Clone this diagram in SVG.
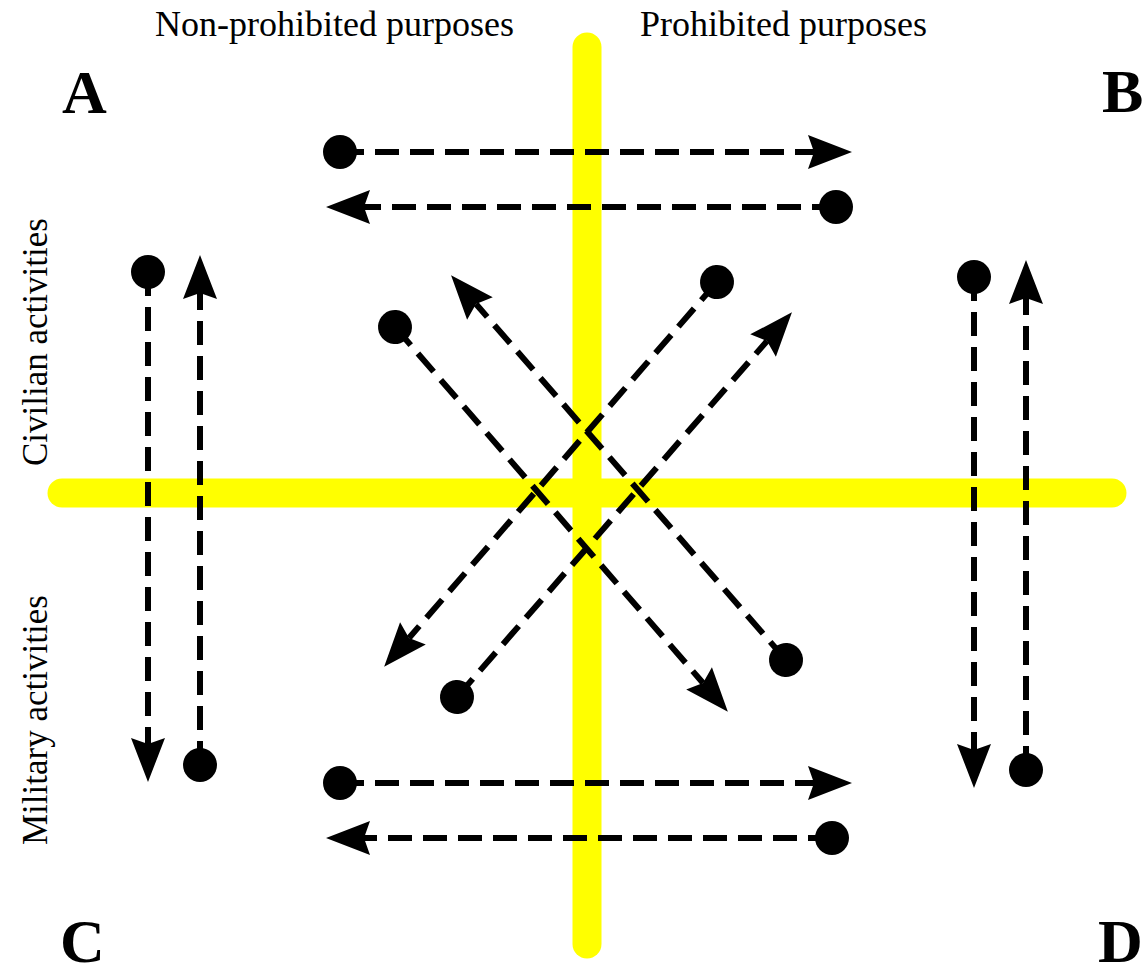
<svg xmlns="http://www.w3.org/2000/svg" width="1146" height="976" viewBox="0 0 1146 976">
<style>
.lbl{font-family:"Liberation Serif","Times New Roman",serif;font-size:36px;fill:#000}
.vlbl{font-family:"Liberation Serif","Times New Roman",serif;font-size:35px;fill:#000}
.corner{font-family:"Liberation Serif","Times New Roman",serif;font-size:62px;font-weight:bold;fill:#000}
.axis{stroke:#ffff00;stroke-width:29;stroke-linecap:round;fill:none}
.flow{stroke:#000;stroke-width:6;stroke-dasharray:24 11;fill:none;marker-start:url(#dot);marker-end:url(#arrow)}
</style>
<defs>
<marker id="arrow" markerUnits="userSpaceOnUse" markerWidth="60" markerHeight="60" viewBox="-10 -30 60 60" refX="0" refY="0" orient="auto" overflow="visible">
<path d="M-6,-17 L38,0 L-6,17 L0,0 Z" fill="#000"/>
</marker>
<marker id="dot" markerUnits="userSpaceOnUse" markerWidth="40" markerHeight="40" viewBox="-20 -20 40 40" refX="0" refY="0" orient="auto" overflow="visible">
<circle cx="0" cy="0" r="17" fill="#000"/>
</marker>
</defs>
<rect width="1146" height="976" fill="#fff"/>
<g id="axes">
<line class="axis" x1="587" y1="47" x2="587" y2="944"/>
<line class="axis" x1="62" y1="493" x2="1112" y2="493"/>
</g>
<g id="labels">
<text class="lbl" x="155" y="36">Non-prohibited purposes</text>
<text class="lbl" x="640" y="36">Prohibited purposes</text>
<text class="vlbl" transform="translate(47,466) rotate(-90)">Civilian activities</text>
<text class="vlbl" transform="translate(47,845) rotate(-90)">Military activities</text>
</g>
<g id="corner-A"><text class="corner" x="62" y="113">A</text></g>
<g id="corner-B"><text class="corner" x="1102" y="112">B</text></g>
<g id="corner-C"><text class="corner" x="60" y="962">C</text></g>
<g id="corner-D"><text class="corner" x="1098" y="962">D</text></g>
<g id="connectors">
<line class="flow" x1="340" y1="152" x2="814" y2="152"/>
<line class="flow" x1="836" y1="207" x2="364" y2="207"/>
<line class="flow" x1="340" y1="783" x2="814" y2="783"/>
<line class="flow" x1="832" y1="838" x2="364" y2="838"/>
<line class="flow" x1="148" y1="272" x2="148" y2="744"/>
<line class="flow" x1="200" y1="765" x2="200" y2="293"/>
<line class="flow" x1="974" y1="277" x2="974" y2="750"/>
<line class="flow" x1="1026" y1="770" x2="1026" y2="298"/>
<line class="flow" x1="395" y1="327" x2="703" y2="683"/>
<line class="flow" x1="786" y1="660" x2="476" y2="304"/>
<line class="flow" x1="717" y1="282" x2="409" y2="638"/>
<line class="flow" x1="457" y1="697" x2="767" y2="341"/>
</g>
</svg>
